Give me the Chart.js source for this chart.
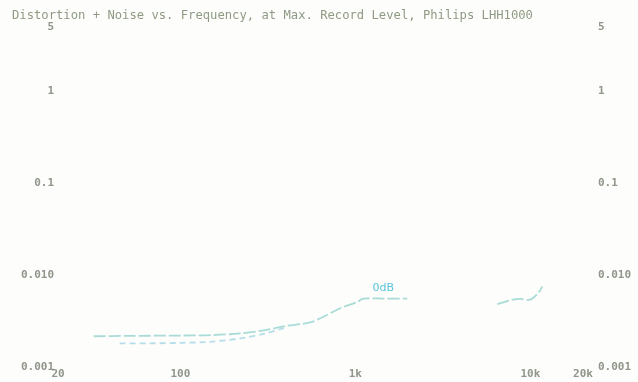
<!DOCTYPE html>
<html><head><meta charset="utf-8">
<script src="https://cdn.jsdelivr.net/npm/chart.js@4.4.1/dist/chart.umd.min.js"></script>
<style>html,body{margin:0;padding:0;background:#fdfdfb;}#wrap{width:638px;height:382px;}</style>
</head><body><div id="wrap"><canvas id="c" width="638" height="382"></canvas></div>
<script>
const titleText = "Distortion + Noise vs. Frequency, at Max. Record Level, Philips LHH1000";
const xTicks = [20, 100, 1000, 10000, 20000];
const xTickLabels = ["20", "100", "1k", "10k", "20k"];
const yTicks = [5, 1, 0.1, 0.01, 0.001];
const yTickLabels = ["5", "1", "0.1", "0.010", "0.001"];

const upperFreq = [32, 50, 100, 150, 220, 300, 390, 553, 631, 821, 1026, 1111, 1445, 1982, null, 6477, 7690, 8770, 10000, 11110, 11720];
const upperTHD  = [0.00216, 0.00218, 0.0022, 0.00222, 0.00232, 0.0025, 0.00277, 0.00305, 0.00339, 0.00436, 0.0051, 0.00555, 0.00555, 0.00555, null, 0.00482, 0.00533, 0.0055, 0.0054, 0.0064, 0.0075];
const lowerFreq = [45, 67, 100, 148, 220, 300, 390];
const lowerTHD  = [0.00181, 0.00181, 0.00183, 0.00188, 0.00205, 0.0023, 0.00265];
const labelText = "0dB";
const labelAt = [1445, 0.0072];

function pts(xs, ys){ return xs.map((x,i)=> x===null ? {x:NaN,y:null} : {x:x, y:ys[i]}); }

const tickFont = {family: "'DejaVu Sans Mono', monospace", size: 11, weight: 'bold'};
const tickColor = '#8f968a';

const textPlugin = {
  id: 'texts',
  afterDatasetsDraw(chart){
    const ctx = chart.ctx, xs = chart.scales.x, ys = chart.scales.y;
    ctx.save();
    ctx.font = "12.2px 'DejaVu Sans Mono', monospace";
    ctx.fillStyle = '#8f9a84';
    ctx.textAlign = 'left'; ctx.textBaseline = 'middle';
    ctx.fillText(titleText, 12, 16);
    ctx.font = "11px 'DejaVu Sans', sans-serif";
    ctx.fillStyle = '#5cc3de';
    ctx.textAlign = 'center';
    ctx.fillText(labelText, xs.getPixelForValue(labelAt[0]), ys.getPixelForValue(labelAt[1]));
    ctx.restore();
  }
};

const noPad = s => { s.paddingTop = 0; s.paddingBottom = 0; };

new Chart(document.getElementById('c'), {
  type: 'scatter',
  data: {
    datasets: [
      {data: pts(upperFreq, upperTHD), showLine: true, borderColor: '#a9dcd6', borderWidth: 1.8, borderDash: [12,3], pointRadius: 0, spanGaps: false, tension: 0.3, yAxisID: 'y'},
      {data: pts(lowerFreq, lowerTHD), showLine: true, borderColor: '#b6deea', borderWidth: 1.8, borderDash: [6,4], pointRadius: 0, tension: 0.3, yAxisID: 'y'}
    ]
  },
  options: {
    responsive: false, animation: false,
    layout: {padding: {top: 27, bottom: 0, left: 0, right: 0}, autoPadding: false},
    plugins: {legend: {display: false}, tooltip: {enabled: false}, title: {display: false}},
    scales: {
      x: {type: 'logarithmic', min: 20, max: 20000,
        grid: {display: false, drawTicks: false}, border: {display: false},
        afterBuildTicks: s => { s.ticks = xTicks.map(v=>({value:v})); },
        afterFit: s => { s.height = 15; s.paddingLeft = 0; s.paddingRight = 0; },
        ticks: {autoSkip: false, maxRotation: 0, padding: 1, color: tickColor, font: tickFont,
          callback: (v) => xTickLabels[xTicks.indexOf(v)] }
      },
      y: {type: 'logarithmic', position: 'left', min: 0.001, max: 5,
        grid: {display: false, drawTicks: false}, border: {display: false},
        afterBuildTicks: s => { s.ticks = yTicks.map(v=>({value:v})); },
        afterFit: s => { s.width = 58; noPad(s); },
        ticks: {autoSkip: false, padding: 4, color: tickColor, font: tickFont,
          callback: (v) => yTickLabels[yTicks.indexOf(v)] }
      },
      y2: {type: 'logarithmic', position: 'right', min: 0.001, max: 5,
        grid: {display: false, drawTicks: false}, border: {display: false},
        afterBuildTicks: s => { s.ticks = yTicks.map(v=>({value:v})); },
        afterFit: s => { s.width = 55; noPad(s); },
        ticks: {autoSkip: false, padding: 15, color: tickColor, font: tickFont,
          callback: (v) => yTickLabels[yTicks.indexOf(v)] }
      }
    }
  },
  plugins: [textPlugin]
});
</script></body></html>
